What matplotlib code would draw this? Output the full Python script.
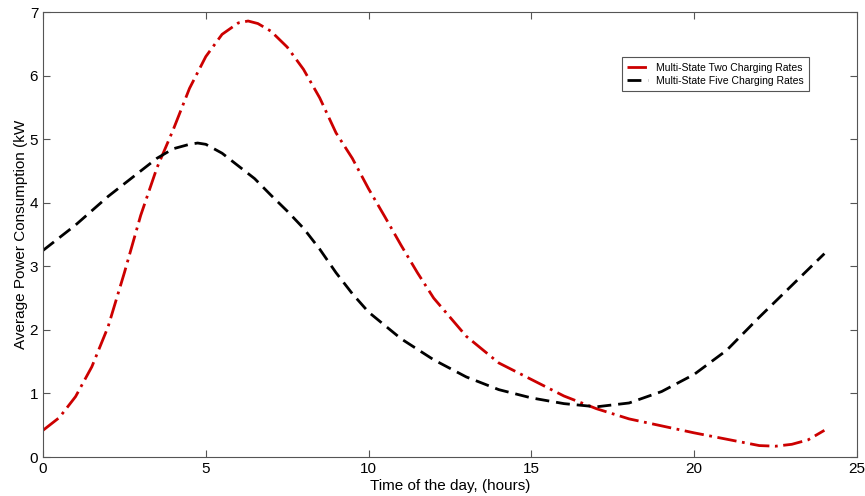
import numpy as np
import matplotlib.pyplot as plt

plt.rcParams['font.family'] = ['Liberation Sans', 'DejaVu Sans']

# Multi-State Two Charging Rates (red, dash-dot)
two_hours = [0, 0.5, 1, 1.5, 2, 2.5, 3, 3.5, 4, 4.5, 5, 5.5, 6, 6.3, 6.6, 7, 7.5, 8, 8.5,
             9, 9.5, 10, 10.5, 11, 11.5, 12, 13, 14, 15, 16, 17, 18, 19, 20, 21, 22,
             22.5, 23, 23.5, 24]
two_kw = [0.42, 0.62, 0.95, 1.42, 2.05, 2.9, 3.8, 4.55, 5.15, 5.8, 6.3, 6.65, 6.83, 6.86, 6.82,
          6.7, 6.45, 6.1, 5.65, 5.1, 4.7, 4.22, 3.78, 3.33, 2.9, 2.5, 1.9, 1.48, 1.22, 0.96,
          0.76, 0.6, 0.49, 0.38, 0.28, 0.18, 0.17, 0.2, 0.27, 0.42]

# Multi-State Five Charging Rates (black, dashed)
five_hours = [0, 1, 2, 3, 3.5, 4, 4.5, 4.75, 5, 5.5, 6, 6.5, 7, 7.5, 8, 8.5, 9, 9.5, 10,
              11, 12, 13, 14, 15, 16, 17, 18, 19, 20, 21, 22, 23, 24]
five_kw = [3.25, 3.65, 4.1, 4.5, 4.7, 4.85, 4.92, 4.94, 4.92, 4.78, 4.58, 4.38, 4.12, 3.87,
           3.6, 3.27, 2.9, 2.57, 2.28, 1.86, 1.53, 1.26, 1.06, 0.93, 0.84, 0.79, 0.85, 1.03,
           1.3, 1.68, 2.2, 2.7, 3.2]

fig = plt.figure(figsize=(8.65, 4.96), dpi=100)
ax = fig.add_axes([0.0497, 0.0786, 0.941, 0.897])

ax.plot(two_hours, two_kw, color='#cc0000', lw=2, dashes=(7, 2, 1, 2),
        label='Multi-State Two Charging Rates')
ax.plot(five_hours, five_kw, color='black', lw=2, dashes=(5, 2.5),
        label='Multi-State Five Charging Rates')

ax.set_xlim(0, 25)
ax.set_ylim(0, 7)
ax.set_xticks([0, 5, 10, 15, 20, 25])
ax.set_yticks(range(8))
ax.tick_params(direction='in', top=True, right=True, length=5, labelsize=11,
               color='#555555')
for s in ax.spines.values():
    s.set_color('#555555')

ax.set_xlabel('Time of the day, (hours)', fontsize=11, labelpad=2)
ax.set_ylabel('Average Power Consumption (kW', fontsize=11, labelpad=1)

leg = ax.legend(loc='upper left', bbox_to_anchor=(0.705, 0.91), fontsize=7.5,
                handlelength=2, fancybox=False, framealpha=1, borderpad=0.5,
                labelspacing=0.3)
leg.get_frame().set_edgecolor('#555555')
leg.get_frame().set_linewidth(0.8)

fig.savefig('out.png', dpi=100)
